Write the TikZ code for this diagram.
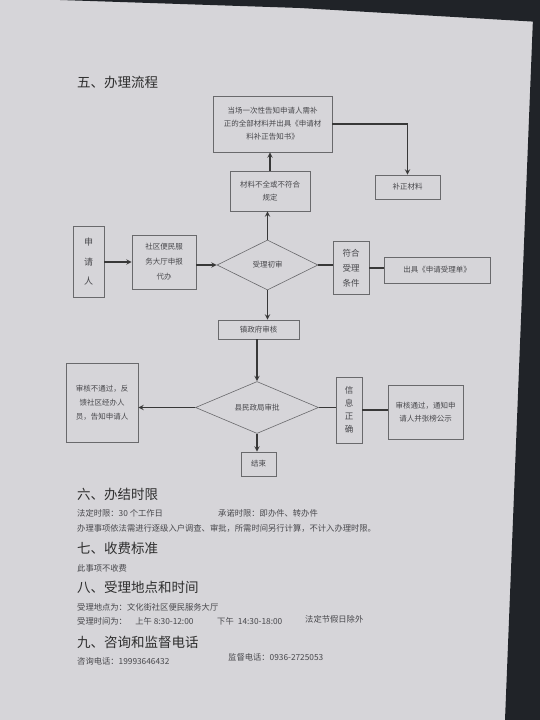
\documentclass[tikz,border=0pt]{standalone}
\usepackage{fontspec}
\setmainfont{Noto Sans CJK SC}
\usetikzlibrary{shapes.geometric}
\usetikzlibrary{arrows}

\definecolor{pagegrey}{RGB}{214,213,217}
\definecolor{edgedark}{RGB}{32,35,40}
\definecolor{inkgrey}{RGB}{72,72,76}
\definecolor{boxgrey}{RGB}{105,105,108}

\tikzset{
	box/.style={draw=boxgrey, line width=0.6pt, inner sep=0pt, align=center, text=inkgrey, font=\fontsize{7.5}{13}\selectfont},
	decide/.style={diamond, draw=boxgrey, line width=0.6pt, inner sep=0pt, text=inkgrey, font=\fontsize{7.5}{9}\selectfont},
	link/.style={draw=black!78, line width=1.4pt, >=stealth},
	heading/.style={anchor=west, inner sep=0pt, text=black!82, font=\fontsize{13.5}{16}\selectfont},
	bodytext/.style={anchor=west, inner sep=0pt, text=inkgrey, font=\fontsize{8.3}{10}\selectfont},
}

\begin{document}
\begin{tikzpicture}[x=1pt,y=-1pt]
	% page of the photo
	\useasboundingbox (0,0) rectangle (540,720);
	\fill[pagegrey] (0,0) rectangle (540,720);
	\fill[edgedark] (60,0) -- (540,0) -- (540,22) -- (300,8) -- cycle;
	\fill[edgedark] (533,18) -- (540,18) -- (540,720) -- (505,720) -- cycle;

	\node[heading] (h5) at (77,82) {五、办理流程};

	% flow chart
	\node[box, minimum width=119, minimum height=56] (notice) at (272.5,124) {当场一次性告知申请人需补\\正的全部材料并出具《申请材\\料补正告知书》};
	\node[box, minimum width=65, minimum height=24] (fix) at (407.5,187) {补正材料};
	\node[box, minimum width=80, minimum height=40] (lack) at (270,191) {材料不全或不符合\\规定};

	\node[box, minimum width=31, minimum height=71, font=\fontsize{9}{19.5}\selectfont] (apply) at (88.5,262) {申\\请\\人};
	\node[box, minimum width=64, minimum height=54, font=\fontsize{7.5}{15}\selectfont] (hall) at (164,262) {社区便民服\\务大厅申报\\代办};
	\node[decide, minimum width=101, minimum height=50] (firstcheck) at (267.5,265) {受理初审};
	\node[box, minimum width=36, minimum height=53, font=\fontsize{8.5}{15}\selectfont] (accept) at (351,268) {符合\\受理\\条件};
	\node[box, minimum width=106, minimum height=26] (issue) at (437,270) {出具《申请受理单》};

	\node[box, minimum width=81, minimum height=19] (town) at (258.5,329.5) {镇政府审核};
	\node[decide, minimum width=123, minimum height=45] (county) at (257,407.5) {县民政局审批};
	\node[box, minimum width=72, minimum height=79, font=\fontsize{7.5}{14}\selectfont] (reject) at (102,402.5) {审核不通过，反\\馈社区经办人\\员，告知申请人};
	\node[box, minimum width=26, minimum height=66, font=\fontsize{8.5}{13}\selectfont] (correct) at (349,410) {信\\息\\正\\确};
	\node[box, minimum width=75, minimum height=54] (pass) at (425.5,412) {审核通过，通知申\\请人并张榜公示};
	\node[box, minimum width=35, minimum height=24] (finish) at (258.5,464) {结束};

	\draw[link,->] (apply) -- (hall);
	\draw[link,->] (hall.east |- firstcheck.west) -- (firstcheck.west);
	\draw[link,->] (firstcheck.north) -- (firstcheck.north |- lack.south);
	\draw[link,->] (lack.north) -- (lack.north |- notice.south);
	\draw[link,->] (notice.east) -- (notice.east -| fix.north) -- (fix.north);
	\draw[link] (firstcheck.east) -- (firstcheck.east -| accept.west);
	\draw[link] (accept.east) -- (accept.east -| issue.west);
	\draw[link,->] (firstcheck.south) -- (firstcheck.south |- town.north);
	\draw[link,->] (town.south -| county.north) -- (county.north);
	\draw[link,->] (county.west) -- (reject.east |- county.west);
	\draw[link] (county.east) -- (correct.west |- county.east);
	\draw[link] (correct.east) -- (correct.east -| pass.west);
	\draw[link,->] (county.south) -- (county.south |- finish.north);

	% text below the chart
	\node[heading] (h6) at (77,494) {六、办结时限};
	\node[bodytext] (limit) at (77,513) {法定时限：30 个工作日};
	\node[bodytext] (promise) at (218,513) {承诺时限：即办件、转办件};
	\node[bodytext] (extra) at (77,528) {办理事项依法需进行逐级入户调查、审批，所需时间另行计算，不计入办理时限。};
	\node[heading] (h7) at (77,548) {七、收费标准};
	\node[bodytext] (fee) at (77,568) {此事项不收费};
	\node[heading] (h8) at (77,587) {八、受理地点和时间};
	\node[bodytext] (place) at (77,607) {受理地点为：文化街社区便民服务大厅};
	\node[bodytext] (hours) at (77,621) {受理时间为：\quad 上午 8:30-12:00};
	\node[bodytext] (afternoon) at (217,621) {下午\enspace 14:30-18:00};
	\node[bodytext] (holiday) at (305,619) {法定节假日除外};
	\node[heading] (h9) at (77,642) {九、咨询和监督电话};
	\node[bodytext] (consult) at (77,661) {咨询电话：19993646432};
	\node[bodytext] (supervise) at (228,657) {监督电话：0936-2725053};
\end{tikzpicture}
\end{document}
